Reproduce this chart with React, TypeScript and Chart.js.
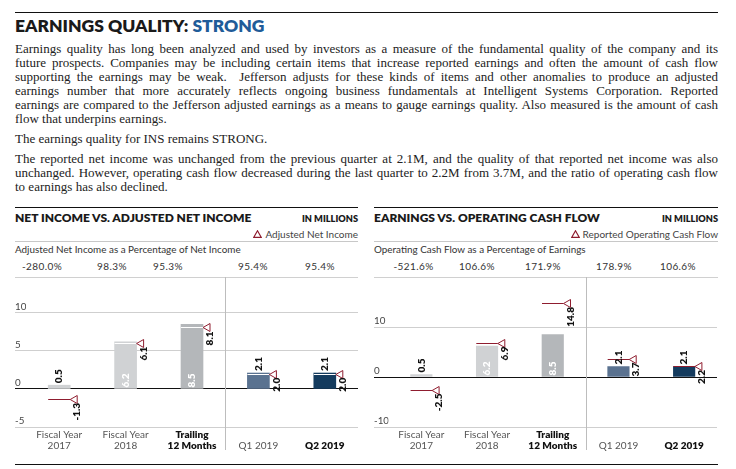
import React, { useEffect, useRef } from "react";
import { Chart, registerables } from "chart.js";

Chart.register(...registerables);

// ---------- DATA ----------
const CATEGORIES: (string | string[])[] = [
  ["Fiscal Year", "2017"],
  ["Fiscal Year", "2018"],
  ["Trailing", "12 Months"],
  "Q1 2019",
  "Q2 2019",
];
const HIGHLIGHTED = [false, false, true, false, true];

const NET_INCOME = [0.5, 6.2, 8.5, 2.1, 2.1];
const ADJUSTED_NET_INCOME = [-1.3, 6.1, 8.1, 2.0, 2.0];
const ADJ_PCT_LABELS = ["-280.0%", "98.3%", "95.3%", "95.4%", "95.4%"];

const EARNINGS = [0.5, 6.2, 8.5, 2.1, 2.1];
const OPERATING_CASH_FLOW = [-2.5, 6.9, 14.8, 3.7, 2.2];
const OCF_PCT_LABELS = ["-521.6%", "106.6%", "171.9%", "178.9%", "106.6%"];

const LEFT_Y_TICKS = [-5, 0, 5, 10];
const LEFT_Y_MIN = -5;
const LEFT_Y_MAX = 14.34;
const RIGHT_Y_TICKS = [-10, 0, 10];
const RIGHT_Y_MIN = -10;
const RIGHT_Y_MAX = 19.4;

// ---------- STYLE ----------
const RED = "#8f1d2f";
const BLUE = "#1f5c99";
const BAR_COLORS = ["#d0d2d4", "#d0d2d4", "#b4b7ba", "#5a7290", "#143b5e"];
const SANS = "Lato, 'Open Sans', sans-serif";
const SERIF = "'Liberation Serif', 'DejaVu Serif', serif";

const LEFT_PCT_X = [42, 112, 168, 253, 320];
const RIGHT_PCT_X = [413.5, 477, 543, 614, 678];

type PanelProps = {
  bars: number[];
  marks: number[];
  yTicks: number[];
  yMin: number;
  yMax: number;
  axisWidth: number;
  barWidth: number;
  left: number;
  top: number;
  width: number;
  height: number;
  dividerTop: number;
  dividerBottom: number;
};

function BarPanel(p: PanelProps) {
  const ref = useRef<HTMLCanvasElement | null>(null);
  useEffect(() => {
    if (!ref.current) return;
    const markPlugin = {
      id: "marks",
      afterDatasetsDraw(chart: any) {
        const ctx = chart.ctx as CanvasRenderingContext2D;
        const meta = chart.getDatasetMeta(0);
        const y = chart.scales.y;
        const x = chart.scales.x;
        const zero = y.getPixelForValue(0);
        ctx.save();
        // divider between annual and quarterly
        const xd = Math.round((x.getPixelForValue(2) + x.getPixelForValue(3)) / 2) + 0.5;
        ctx.strokeStyle = "#bdbdbd";
        ctx.lineWidth = 1;
        ctx.beginPath();
        ctx.moveTo(xd, p.dividerTop);
        ctx.lineTo(xd, p.dividerBottom);
        ctx.stroke();

        meta.data.forEach((bar: any, i: number) => {
          const bx = bar.x;
          const w = bar.width;
          const v = p.bars[i];
          const m = p.marks[i];
          const ym = Math.round(y.getPixelForValue(m)) + 0.5;
          const insideBar = m > 0 && m < v;
          ctx.lineWidth = 1;
          ctx.strokeStyle = insideBar ? "#ffffff" : RED;
          ctx.beginPath();
          ctx.moveTo(bx - w / 2, ym);
          ctx.lineTo(bx + w / 2, ym);
          ctx.stroke();
          const tx = bx + w / 2;
          ctx.beginPath();
          ctx.moveTo(tx, ym);
          ctx.lineTo(tx + 7, ym - 4);
          ctx.lineTo(tx + 7, ym + 4);
          ctx.closePath();
          ctx.fillStyle = "#ffffff";
          ctx.fill();
          ctx.strokeStyle = RED;
          ctx.stroke();
        });

        ctx.font = `800 10px ${SANS}`;
        ctx.textBaseline = "middle";
        meta.data.forEach((bar: any, i: number) => {
          const bx = bar.x;
          const w = bar.width;
          const v = p.bars[i];
          const m = p.marks[i];
          const txt = v.toFixed(1);
          const tw = ctx.measureText(txt).width;
          const yTop = y.getPixelForValue(v);
          const fits = zero - yTop >= tw + 3;
          ctx.save();
          if (fits) {
            ctx.translate(bx, zero - 1.5);
            ctx.fillStyle = "#ffffff";
          } else {
            ctx.translate(bx, yTop - 2);
            ctx.fillStyle = "#111111";
          }
          ctx.rotate(-Math.PI / 2);
          ctx.textAlign = "left";
          ctx.fillText(txt, 0, 0);
          ctx.restore();

          const ym = y.getPixelForValue(m);
          ctx.save();
          ctx.translate(bx + w / 2 + 7, ym + 4);
          ctx.rotate(-Math.PI / 2);
          ctx.textAlign = "right";
          ctx.fillStyle = "#111111";
          ctx.fillText(m.toFixed(1), 0, 0);
          ctx.restore();
        });
        ctx.restore();
      },
    };

    const chart = new Chart(ref.current, {
      type: "bar",
      data: {
        labels: CATEGORIES as any,
        datasets: [
          {
            data: p.bars,
            backgroundColor: BAR_COLORS,
            borderWidth: 0,
            barThickness: p.barWidth,
          },
        ],
      },
      options: {
        animation: false,
        responsive: false,
        layout: { padding: { top: 10, right: 2, left: 0, bottom: 0 } },
        plugins: { legend: { display: false }, tooltip: { enabled: false } },
        scales: {
          x: {
            grid: { display: false, drawTicks: false },
            border: { display: false },
            afterFit: (s: any) => {
              s.height = 28;
            },
            ticks: {
              autoSkip: false,
              maxRotation: 0,
              minRotation: 0,
              padding: 7.5,
              crossAlign: "far",
              color: (c: any) => (HIGHLIGHTED[c.index] ? "#111111" : "#555555"),
              font: (c: any) => ({
                family: SANS,
                size: 10,
                weight: HIGHLIGHTED[c.index] ? "800" : "normal",
                lineHeight: 1.1,
              }),
            },
          },
          y: {
            min: p.yMin,
            max: p.yMax,
            afterBuildTicks: (s: any) => {
              s.ticks = p.yTicks.map((v) => ({ value: v }));
            },
            afterFit: (s: any) => {
              s.width = p.axisWidth;
            },
            border: { display: false },
            grid: {
              color: (c: any) => (c.tick && c.tick.value === 0 ? "#111111" : "#cfcfcf"),
              tickLength: p.axisWidth,
              drawTicks: true,
            },
            ticks: {
              crossAlign: "far",
              padding: 0,
              labelOffset: -6,
              color: "#444444",
              font: { family: SANS, size: 9.8 },
              callback: (v: any) => String(v),
            },
          },
        },
      },
      plugins: [markPlugin],
    } as any);
    return () => chart.destroy();
  }, []);
  return (
    <canvas
      ref={ref}
      width={p.width}
      height={p.height}
      style={{ position: "absolute", left: p.left, top: p.top, width: p.width, height: p.height }}
    />
  );
}

const PARA1 = [
  "Earnings quality has long been analyzed and used by investors as a measure of the fundamental quality of the company and its",
  "future prospects. Companies may be including certain items that increase reported earnings and often the amount of cash flow",
  "supporting the earnings may be weak.  Jefferson adjusts for these kinds of items and other anomalies to produce an adjusted",
  "earnings number that more accurately reflects ongoing business fundamentals at Intelligent Systems Corporation. Reported",
  "earnings are compared to the Jefferson adjusted earnings as a means to gauge earnings quality. Also measured is the amount of cash",
  "flow that underpins earnings.",
];
const PARA2 = ["The earnings quality for INS remains STRONG."];
const PARA3 = [
  "The reported net income was unchanged from the previous quarter at 2.1M, and the quality of that reported net income was also",
  "unchanged. However, operating cash flow decreased during the last quarter to 2.2M from 3.7M, and the ratio of operating cash flow",
  "to earnings has also declined.",
];

function Para({ lines }: { lines: string[] }) {
  return (
    <div style={{ marginBottom: 6 }}>
      {lines.map((l, i) => (
        <div
          key={i}
          style={{
            whiteSpace: "pre",
            textAlign: "justify",
            textAlignLast: i < lines.length - 1 ? "justify" : "left",
            height: 14,
          }}
        >
          {l}
        </div>
      ))}
    </div>
  );
}

function Txt(props: {
  x: number;
  baseline: number;
  size: number;
  children: any;
  weight?: number;
  color?: string;
  align?: "left" | "right" | "center";
  spacing?: number;
}) {
  const { x, baseline, size, weight = 400, color = "#333", align = "left", spacing = 0 } = props;
  const top = baseline - 0.887 * size;
  const style: any = {
    position: "absolute",
    top,
    fontFamily: SANS,
    fontSize: size,
    lineHeight: `${size}px`,
    fontWeight: weight,
    color,
    whiteSpace: "nowrap",
    letterSpacing: spacing,
  };
  if (align === "left") style.left = x;
  else if (align === "right") style.right = 736 - x;
  else {
    style.left = x;
    style.transform = "translateX(-50%)";
  }
  return <div style={style}>{props.children}</div>;
}

function Rule({ x1, x2, y, color = "#111", h = 1 }: { x1: number; x2: number; y: number; color?: string; h?: number }) {
  return <div style={{ position: "absolute", left: x1, top: y, width: x2 - x1, height: h, background: color }} />;
}

function PanelHeader(props: {
  x1: number;
  x2: number;
  title: string;
  legend: string;
  subtitle: string;
  pcts: string[];
  pctX: number[];
}) {
  const { x1, x2 } = props;
  return (
    <>
      <Rule x1={x1} x2={x2} y={207} />
      <Txt x={x1} baseline={222.5} size={12} weight={800} color="#1a1a1a">
        {props.title}
      </Txt>
      <Txt x={x2} baseline={222.5} size={9.2} weight={800} color="#1a1a1a" align="right">
        IN MILLIONS
      </Txt>
      <Txt x={x2} baseline={237.6} size={10} color="#444" align="right">
        <svg width="9" height="8" style={{ marginRight: 3, verticalAlign: "baseline" }}>
          <polygon points="4.5,0.8 8.2,7.3 0.8,7.3" fill="none" stroke={RED} strokeWidth="1.2" />
        </svg>
        {props.legend}
      </Txt>
      <Rule x1={x1} x2={x2} y={241} color="#c8c8c8" />
      <Txt x={x1} baseline={254} size={9.9} color="#333">
        {props.subtitle}
      </Txt>
      {props.pcts.map((t, i) => (
        <Txt key={i} x={props.pctX[i]} baseline={270} size={10} color="#333" align="center" spacing={0.4}>
          {t}
        </Txt>
      ))}
      <Rule x1={x1} x2={x2} y={277} color="#d0d0d0" />
    </>
  );
}

export default function App() {
  return (
    <div
      style={{
        position: "absolute",
        left: 0,
        top: 0,
        width: 736,
        height: 469,
        background: "#fff",
        overflow: "hidden",
      }}
    >
      <Rule x1={15} x2={718} y={12} />
      <div
        style={{
          position: "absolute",
          left: 15,
          top: 17,
          fontFamily: SANS,
          fontWeight: 800,
          fontSize: 17.5,
          lineHeight: "18px",
          color: "#1a1a1a",
          whiteSpace: "nowrap",
        }}
      >
        EARNINGS QUALITY: <span style={{ color: BLUE }}>STRONG</span>
      </div>
      <div
        style={{
          position: "absolute",
          left: 15,
          top: 42,
          width: 703,
          fontFamily: SERIF,
          fontSize: 13,
          lineHeight: "14px",
          color: "#222",
        }}
      >
        <Para lines={PARA1} />
        <Para lines={PARA2} />
        <Para lines={PARA3} />
      </div>

      <PanelHeader
        x1={15}
        x2={358}
        title="NET INCOME VS. ADJUSTED NET INCOME"
        legend="Adjusted Net Income"
        subtitle="Adjusted Net Income as a Percentage of Net Income"
        pcts={ADJ_PCT_LABELS}
        pctX={LEFT_PCT_X}
      />
      <PanelHeader
        x1={374}
        x2={718}
        title="EARNINGS VS. OPERATING CASH FLOW"
        legend="Reported Operating Cash Flow"
        subtitle="Operating Cash Flow as a Percentage of Earnings"
        pcts={OCF_PCT_LABELS}
        pctX={RIGHT_PCT_X}
      />

      <BarPanel
        bars={NET_INCOME}
        marks={ADJUSTED_NET_INCOME}
        yTicks={LEFT_Y_TICKS}
        yMin={LEFT_Y_MIN}
        yMax={LEFT_Y_MAX}
        axisWidth={11}
        barWidth={22}
        left={15}
        top={270}
        width={345}
        height={185}
        dividerTop={7}
        dividerBottom={180}
      />
      <BarPanel
        bars={EARNINGS}
        marks={OPERATING_CASH_FLOW}
        yTicks={RIGHT_Y_TICKS}
        yMin={RIGHT_Y_MIN}
        yMax={RIGHT_Y_MAX}
        axisWidth={14.5}
        barWidth={21.5}
        left={374}
        top={270}
        width={345}
        height={185}
        dividerTop={7}
        dividerBottom={180}
      />

      <Rule x1={15} x2={718} y={464} />
    </div>
  );
}
